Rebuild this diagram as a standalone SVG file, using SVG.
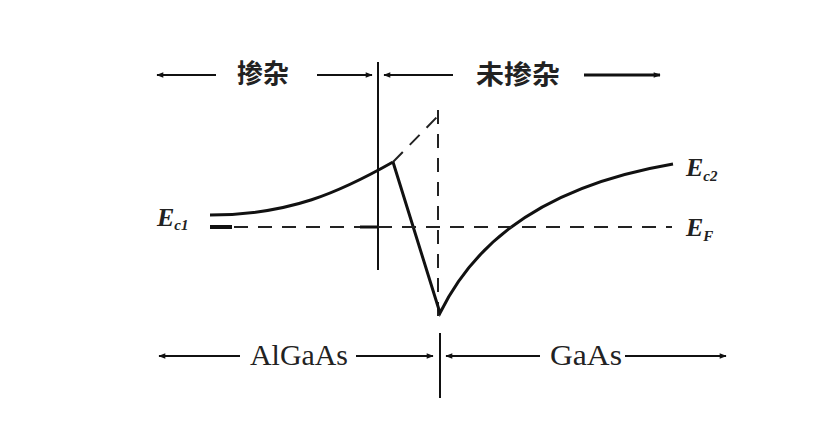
<svg xmlns="http://www.w3.org/2000/svg" width="815" height="443" viewBox="0 0 815 443">
<defs>
<marker id="ah" viewBox="0 0 10 10" refX="9" refY="5" markerWidth="9" markerHeight="7" markerUnits="userSpaceOnUse" orient="auto-start-reverse">
<path d="M0,1 L10,5 L0,9 Z" fill="#111"/>
</marker>
</defs>
<style>
.ln{stroke:#111;stroke-width:2;fill:none}
.th{stroke:#111;stroke-width:3;fill:none}
.ds{stroke:#222;stroke-width:2;fill:none;stroke-dasharray:14,10}
.cn{font-family:"Noto Sans CJK SC","Noto Sans CJK JP",sans-serif;font-size:26px;font-weight:bold;fill:#222}
.lt{font-family:"Liberation Serif",serif;font-size:29px;fill:#222}
.ev{font-family:"Liberation Serif",serif;font-size:26px;font-style:italic;font-weight:bold;fill:#222}
.sb{font-size:15px}
</style>
<rect width="815" height="443" fill="#fff"/>
<g id="connectors">
<line class="ln" x1="216" y1="75" x2="157" y2="75" marker-end="url(#ah)"/>
<line class="ln" x1="317" y1="75" x2="372" y2="75" marker-end="url(#ah)"/>
<line class="ln" x1="453" y1="75" x2="384" y2="75" marker-end="url(#ah)"/>
<line class="th" x1="584" y1="75" x2="660" y2="75" marker-end="url(#ah)"/>
<line class="ln" x1="240" y1="356" x2="159" y2="356" marker-end="url(#ah)"/>
<line class="ln" x1="356" y1="356" x2="433" y2="356" marker-end="url(#ah)"/>
<line class="ln" x1="540" y1="356" x2="446" y2="356" marker-end="url(#ah)"/>
<line class="ln" x1="625" y1="356" x2="726" y2="356" marker-end="url(#ah)"/>
</g>
<g id="interface-top">
<line class="ln" x1="378" y1="62" x2="378" y2="270"/>
</g>
<g id="interface-bottom">
<line class="ln" x1="440" y1="333" x2="440" y2="398"/>
</g>
<g id="band-diagram">
<path class="th" d="M210,215 C290,215 340,192 393,162"/>
<line class="ds" x1="393" y1="162" x2="437" y2="117" stroke-dasharray="10,9"/>
<line class="ds" x1="438" y1="110" x2="438" y2="322" stroke-dasharray="13,8"/>
<path class="th" d="M393,162 L440,313 C465,262 520,190 673,164"/>
<line class="ds" x1="210" y1="227" x2="672" y2="227"/>
<line stroke="#111" stroke-width="4" x1="210" y1="227" x2="232" y2="227"/>
<line class="th" x1="360" y1="227" x2="378" y2="227"/>
</g>
<g id="label-doped"><text class="cn" x="237" y="83">掺杂</text></g>
<g id="label-undoped"><text class="cn" x="476" y="84" textLength="84" lengthAdjust="spacingAndGlyphs">未掺杂</text></g>
<g id="label-algaas"><text class="lt" x="250" y="365" textLength="98" lengthAdjust="spacingAndGlyphs">AlGaAs</text></g>
<g id="label-gaas"><text class="lt" x="550" y="365" textLength="72" lengthAdjust="spacingAndGlyphs">GaAs</text></g>
<g id="label-ec1"><text class="ev" x="157" y="226">E<tspan class="sb" dy="4">c1</tspan></text></g>
<g id="label-ec2"><text class="ev" x="686" y="176">E<tspan class="sb" dy="5">c2</tspan></text></g>
<g id="label-ef"><text class="ev" x="686" y="236">E<tspan class="sb" dy="5">F</tspan></text></g>
</svg>
